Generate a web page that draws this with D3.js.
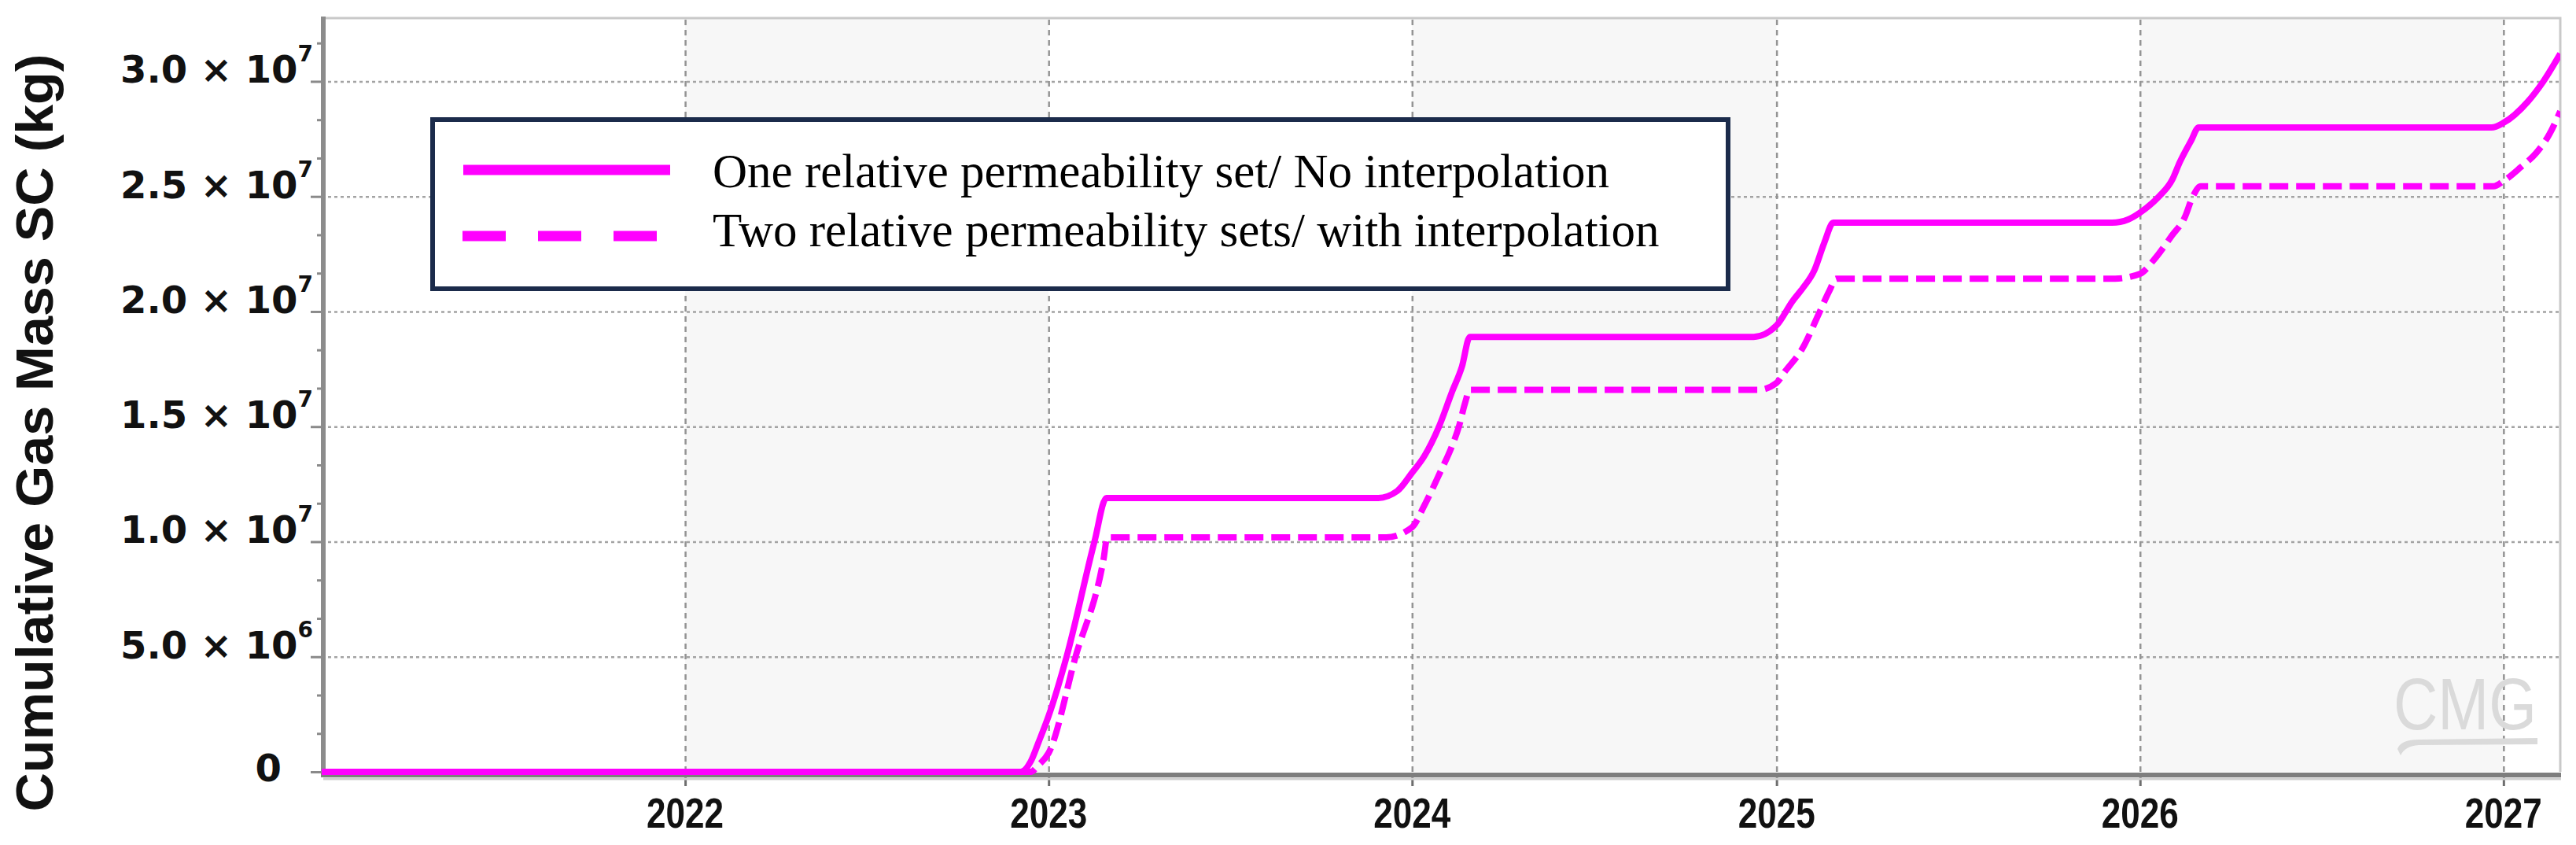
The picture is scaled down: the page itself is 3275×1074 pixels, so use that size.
<!DOCTYPE html>
<html>
<head>
<meta charset="utf-8">
<script src="https://cdn.jsdelivr.net/npm/d3@7"></script>
<style>
  html, body { margin: 0; padding: 0; background: #ffffff; }
  svg { display: block; }
</style>
</head>
<body>
<svg id="chart" width="3275" height="1074"></svg>
<script>
// ---------------- data ----------------
const xDomain = ["2021-01-01", "2027-02-27"];
const yDomain = [0, 3.275e7];
const yearTicks = ["2022-01-01", "2023-01-01", "2024-01-01", "2025-01-01", "2026-01-01", "2027-01-01"];
const yearLabels = ["2022", "2023", "2024", "2025", "2026", "2027"];
const bandStarts = ["2021-01-01", "2022-01-01", "2023-01-01", "2024-01-01", "2025-01-01", "2026-01-01", "2027-01-01"];
const bandShaded = [false, true, false, true, false, true, false];
const yTickValues = [0, 5e6, 1e7, 1.5e7, 2e7, 2.5e7, 3e7];
const yTickMantissa = ["0", "5.0 × 10", "1.0 × 10", "1.5 × 10", "2.0 × 10", "2.5 × 10", "3.0 × 10"];
const yTickExponent = ["", "6", "7", "7", "7", "7", "7"];
const yMinorStep = 5e6 / 3;
const yTitle = "Cumulative Gas Mass SC (kg)";
const seriesNames = ["One relative permeability set/ No interpolation",
                     "Two relative permeability sets/ with interpolation"];

const oneSetDates = ["2021-01-01","2022-12-04","2022-12-14","2022-12-22","2023-01-01","2023-01-19","2023-02-16","2023-02-28",
  "2023-11-28","2023-12-17","2024-01-01","2024-01-13","2024-01-28","2024-02-10","2024-02-20","2024-02-28",
  "2024-12-09","2025-01-01","2025-01-17","2025-01-27","2025-02-08","2025-02-18","2025-02-27",
  "2025-12-04","2025-12-20","2026-01-01","2026-01-20","2026-02-02","2026-02-10","2026-02-21","2026-03-01",
  "2026-12-20","2027-01-01","2027-01-25","2027-02-10","2027-02-27"];
const oneSetValues = [0,0,0.45e6,1.3e6,2.43e6,5.0e6,1.0e7,1.19e7,
  1.19e7,1.22e7,1.30e7,1.37e7,1.50e7,1.65e7,1.76e7,1.89e7,
  1.89e7,1.94e7,2.045e7,2.10e7,2.18e7,2.30e7,2.386e7,
  2.386e7,2.40e7,2.43e7,2.50e7,2.57e7,2.65e7,2.74e7,2.80e7,
  2.80e7,2.82e7,2.91e7,3.00e7,3.12e7];

const twoSetsDates = ["2021-01-01","2022-12-14","2022-12-22","2023-01-01","2023-01-28","2023-02-25","2023-03-01",
  "2023-12-06","2024-01-01","2024-01-13","2024-01-29","2024-02-10","2024-02-17","2024-02-23","2024-02-28",
  "2024-12-14","2025-01-01","2025-01-09","2025-01-27","2025-02-12","2025-02-23","2025-03-02",
  "2025-12-07","2026-01-01","2026-01-15","2026-02-02","2026-02-15","2026-02-23","2026-03-03",
  "2026-12-22","2027-01-01","2027-01-18","2027-02-03","2027-02-16","2027-02-27"];
const twoSetsValues = [0,0,0.3e6,0.82e6,5.0e6,9.2e6,1.019e7,
  1.019e7,1.063e7,1.155e7,1.30e7,1.415e7,1.50e7,1.60e7,1.66e7,
  1.66e7,1.69e7,1.737e7,1.84e7,1.986e7,2.09e7,2.143e7,
  2.143e7,2.164e7,2.225e7,2.33e7,2.41e7,2.50e7,2.544e7,
  2.544e7,2.567e7,2.626e7,2.69e7,2.77e7,2.87e7];

// ---------------- layout ----------------
const parse = d3.utcParse("%Y-%m-%d");
const L = 409, R = 3255, T = 23, B = 981;
const x = d3.scaleUtc().domain(xDomain.map(parse)).range([L, R]);
const y = d3.scaleLinear().domain(yDomain).range([B, T]);
const magenta = "#ff00ff";

const svg = d3.select("#chart");
svg.append("rect").attr("width", 3275).attr("height", 1074).attr("fill", "#ffffff");

// background bands
const bandEnds = bandStarts.slice(1).concat([xDomain[1]]);
svg.append("g").selectAll("rect").data(bandStarts).join("rect")
  .attr("x", (d) => x(parse(d)))
  .attr("y", T)
  .attr("width", (d, i) => x(parse(bandEnds[i])) - x(parse(d)))
  .attr("height", B - T)
  .attr("fill", (d, i) => bandShaded[i] ? "#f7f7f7" : "#ffffff");

// horizontal grid
const gy = svg.append("g").attr("transform", `translate(${L},0)`)
  .call(d3.axisLeft(y).tickValues(yTickValues.slice(1)).tickSize(-(R - L)).tickFormat(""));
gy.select(".domain").remove();
gy.selectAll(".tick line").attr("stroke", "#a3a3a3").attr("stroke-width", 2.5).attr("stroke-dasharray", "4,4");

// vertical grid
const gx = svg.append("g").attr("transform", `translate(0,${B})`)
  .call(d3.axisBottom(x).tickValues(yearTicks.map(parse)).tickSize(-(B - T)).tickFormat(""));
gx.select(".domain").remove();
gx.selectAll(".tick line").attr("stroke", "#949494").attr("stroke-width", 2.5).attr("stroke-dasharray", "7,6");

// top & right frame
svg.append("path")
  .attr("d", `M${L},${T}H${R}V${B}`)
  .attr("fill", "none").attr("stroke", "#c9c9c9").attr("stroke-width", 3);

// CMG watermark
const logo = svg.append("g").attr("fill", "#dadada");
logo.append("text").attr("x", 3043).attr("y", 927)
  .attr("font-family", "Liberation Sans, Arial, sans-serif").attr("font-size", 92)
  .attr("textLength", 182).attr("lengthAdjust", "spacingAndGlyphs").text("CMG");
logo.append("path")
  .attr("d", "M3048,952 Q3052,940 3075,940 L3226,938 L3226,946 L3075,947 Q3058,948 3052,960 Z");

// y axis ticks (major and minor)
const minorVals = d3.range(0, yDomain[1], yMinorStep);
const yAxisG = svg.append("g").attr("transform", `translate(411,0)`)
  .call(d3.axisLeft(y).tickValues(minorVals).tickSize(7).tickFormat(""));
yAxisG.select(".domain").remove();
yAxisG.selectAll(".tick line").attr("stroke", "#8a8a8a").attr("stroke-width", 3)
  .attr("x2", (d, i) => (i % 3 === 0) ? -16 : -8);

// x axis ticks
const xAxisG = svg.append("g").attr("transform", `translate(0,985)`)
  .call(d3.axisBottom(x).tickValues(yearTicks.map(parse)).tickSize(14).tickFormat(""));
xAxisG.select(".domain").remove();
xAxisG.selectAll(".tick line").attr("stroke", "#6e6e6e").attr("stroke-width", 3);

// axis lines
svg.append("line").attr("x1", 411).attr("x2", 411).attr("y1", T - 2).attr("y2", 988)
  .attr("stroke", "#8c8c8c").attr("stroke-width", 6);
svg.append("line").attr("x1", 408).attr("x2", R + 1).attr("y1", 985).attr("y2", 985)
  .attr("stroke", "#7e7e7e").attr("stroke-width", 6);
svg.append("line").attr("x1", 411).attr("x2", R + 1).attr("y1", 990).attr("y2", 990)
  .attr("stroke", "#cfcfcf").attr("stroke-width", 3);

// y tick labels
const yl = svg.append("g").attr("font-family", "DejaVu Sans, Verdana, sans-serif")
  .attr("font-weight", "bold").attr("fill", "#111");
yTickValues.forEach((v, i) => {
  if (yTickExponent[i] === "") {
    yl.append("text").attr("x", 358).attr("y", y(v) + 12).attr("text-anchor", "end")
      .attr("font-size", 48).text(yTickMantissa[i]);
  } else {
    const t = yl.append("text").attr("x", 398).attr("y", y(v) + 2).attr("text-anchor", "end")
      .attr("font-size", 48);
    t.append("tspan").text(yTickMantissa[i]);
    t.append("tspan").attr("font-size", 28).attr("dy", -27).text(yTickExponent[i]);
  }
});

// x tick labels
svg.append("g").selectAll("text").data(yearTicks).join("text")
  .attr("x", (d) => x(parse(d)))
  .attr("y", 1052)
  .attr("text-anchor", "middle")
  .attr("font-family", "Liberation Sans, Arial, sans-serif")
  .attr("font-weight", "bold").attr("font-size", 54)
  .attr("textLength", 98).attr("lengthAdjust", "spacingAndGlyphs")
  .attr("fill", "#111")
  .text((d, i) => yearLabels[i]);

// y title
svg.append("text")
  .attr("transform", "translate(67,550) rotate(-90)")
  .attr("text-anchor", "middle")
  .attr("font-family", "Liberation Sans, Arial, sans-serif")
  .attr("font-weight", "bold").attr("font-size", 67)
  .attr("textLength", 963).attr("lengthAdjust", "spacingAndGlyphs")
  .attr("fill", "#111")
  .text(yTitle);

// curves
svg.append("clipPath").attr("id", "plotclip").append("rect")
  .attr("x", L).attr("y", T).attr("width", R - L).attr("height", B - T + 10);
const line = d3.line().x((d) => x(d[0])).y((d) => y(d[1])).curve(d3.curveMonotoneX);
const s1 = oneSetDates.map((d, i) => [parse(d), oneSetValues[i]]);
const s2 = twoSetsDates.map((d, i) => [parse(d), twoSetsValues[i]]);
const cg = svg.append("g").attr("clip-path", "url(#plotclip)");
cg.append("path").datum(s2).attr("d", line).attr("fill", "none")
  .attr("stroke", magenta).attr("stroke-width", 8).attr("stroke-dasharray", "24,10");
cg.append("path").datum(s1).attr("d", line).attr("fill", "none")
  .attr("stroke", magenta).attr("stroke-width", 8).attr("stroke-linejoin", "round");

// legend
const lg = svg.append("g");
lg.append("rect").attr("x", 550).attr("y", 152).attr("width", 1647).attr("height", 215)
  .attr("fill", "#ffffff").attr("stroke", "#1b2b4b").attr("stroke-width", 6);
lg.append("line").attr("x1", 589).attr("x2", 852).attr("y1", 216).attr("y2", 216)
  .attr("stroke", magenta).attr("stroke-width", 13);
lg.append("line").attr("x1", 588).attr("x2", 838).attr("y1", 300).attr("y2", 300)
  .attr("stroke", magenta).attr("stroke-width", 13).attr("stroke-dasharray", "55,41");
lg.selectAll("text.lt").data(seriesNames).join("text").attr("class", "lt")
  .attr("x", 906).attr("y", (d, i) => 238 + i * 75)
  .attr("font-family", "Liberation Serif, Times New Roman, serif")
  .attr("font-size", 61).attr("fill", "#000")
  .text((d) => d);
</script>
</body>
</html>
